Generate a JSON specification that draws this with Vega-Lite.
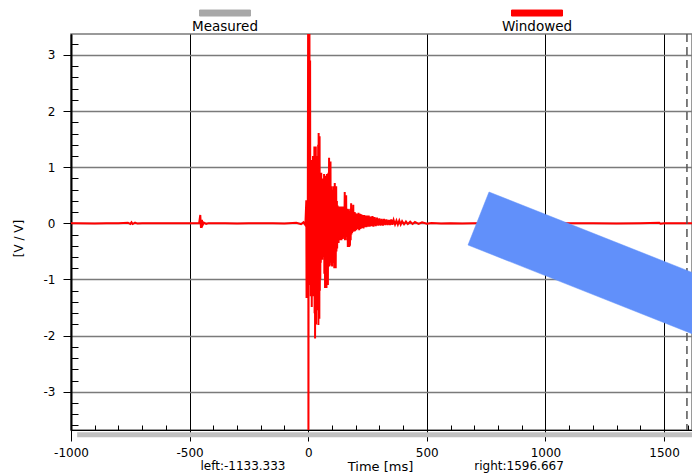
{
  "$schema": "https://vega.github.io/schema/vega-lite/v6.json",
  "width": 621,
  "height": 396,
  "autosize": {"type": "none"},
  "padding": {"left": 71, "top": 34, "right": 0, "bottom": 43},
  "background": "#ffffff",
  "config": {
    "font": "DejaVu Sans",
    "view": {"stroke": "#7a7a7a", "strokeWidth": 1.5},
    "axis": {"labelFont": "DejaVu Sans", "labelFontSize": 12, "labelColor": "#000000", "titleFont": "DejaVu Sans", "titleFontWeight": "normal", "titleColor": "#000000"}
  },
  "datasets": {
    "trace": [
      {"t": -1000, "v": 0}, {"t": -980, "v": 0.004}, {"t": -900, "v": -0.003}, {"t": -850, "v": 0.004}, {"t": -800, "v": 0},
      {"t": -760, "v": 0.012}, {"t": -750, "v": -0.012}, {"t": -745, "v": 0.02}, {"t": -740, "v": -0.012}, {"t": -730, "v": 0.012},
      {"t": -720, "v": -0.004}, {"t": -700, "v": 0.004}, {"t": -650, "v": 0}, {"t": -600, "v": 0.003}, {"t": -500, "v": 0},
      {"t": -460, "v": 0}, {"t": -455, "v": 0.15}, {"t": -452, "v": -0.08}, {"t": -448, "v": 0.06}, {"t": -445, "v": -0.03},
      {"t": -440, "v": 0.015}, {"t": -430, "v": -0.008}, {"t": -420, "v": 0.004}, {"t": -400, "v": 0}, {"t": -350, "v": 0.004},
      {"t": -300, "v": -0.003}, {"t": -250, "v": 0.003}, {"t": -200, "v": 0}, {"t": -150, "v": 0.004}, {"t": -100, "v": -0.004},
      {"t": -50, "v": 0.01}, {"t": -30, "v": -0.015}, {"t": -20, "v": 0.02}, {"t": -12, "v": -0.03},
      {"t": -8, "v": 0.41}, {"t": -7, "v": -1.33}, {"t": -6, "v": 0.2}, {"t": -5, "v": -0.6}, {"t": -3, "v": 0.3}, {"t": -2, "v": -0.4},
      {"t": 0, "v": 4.5}, {"t": 1, "v": -4.5}, {"t": 2, "v": 2.9}, {"t": 3, "v": -1.0}, {"t": 4, "v": 1.1}, {"t": 5, "v": 4.5},
      {"t": 6, "v": 0.8}, {"t": 7, "v": -0.6}, {"t": 8, "v": 2.9}, {"t": 9, "v": -1.1}, {"t": 10, "v": 0.7}, {"t": 11, "v": -1.3},
      {"t": 12, "v": 1.0}, {"t": 13, "v": -0.8}, {"t": 14, "v": 1.13}, {"t": 15, "v": -1.49}, {"t": 16, "v": 0.6}, {"t": 17, "v": -1.2},
      {"t": 18, "v": 0.9}, {"t": 19, "v": -1.0}, {"t": 20, "v": 1.2}, {"t": 21, "v": -0.7}, {"t": 22, "v": 1.0}, {"t": 23, "v": -1.3},
      {"t": 24, "v": 0.8}, {"t": 25, "v": -1.0}, {"t": 26, "v": 1.37}, {"t": 27, "v": -1.6}, {"t": 28, "v": 0.9}, {"t": 29, "v": -2.05},
      {"t": 30, "v": 1.1}, {"t": 31, "v": -1.4}, {"t": 32, "v": 1.37}, {"t": 33, "v": -1.8}, {"t": 34, "v": 1.0}, {"t": 35, "v": -1.2},
      {"t": 36, "v": 1.2}, {"t": 37, "v": -1.55}, {"t": 38, "v": 0.8}, {"t": 39, "v": -1.3}, {"t": 40, "v": 1.2}, {"t": 41, "v": -1.0},
      {"t": 42, "v": 1.4}, {"t": 43, "v": -1.81}, {"t": 44, "v": 1.61}, {"t": 45, "v": -1.5}, {"t": 46, "v": 1.2}, {"t": 47, "v": -1.7},
      {"t": 48, "v": 1.55}, {"t": 49, "v": -1.2}, {"t": 50, "v": 0.9}, {"t": 51, "v": -1.0}, {"t": 52, "v": 0.8}, {"t": 53, "v": -0.7},
      {"t": 55, "v": 0.9}, {"t": 56, "v": -0.6}, {"t": 58, "v": 0.7}, {"t": 59, "v": -0.65}, {"t": 61, "v": 0.8}, {"t": 62, "v": -0.5},
      {"t": 64, "v": 0.6}, {"t": 65, "v": -0.6}, {"t": 67, "v": 0.88}, {"t": 68, "v": -0.9}, {"t": 70, "v": 0.7}, {"t": 71, "v": -1.15},
      {"t": 73, "v": 0.85}, {"t": 74, "v": -0.8}, {"t": 76, "v": 0.6}, {"t": 77, "v": -1.15}, {"t": 79, "v": 0.88}, {"t": 80, "v": -1.0},
      {"t": 82, "v": 0.5}, {"t": 83, "v": -1.1}, {"t": 85, "v": 0.9}, {"t": 86, "v": -0.7}, {"t": 88, "v": 1.17}, {"t": 89, "v": -0.77},
      {"t": 91, "v": 0.8}, {"t": 92, "v": -0.6}, {"t": 94, "v": 1.1}, {"t": 95, "v": -0.7}, {"t": 97, "v": 0.66}, {"t": 98, "v": -0.75},
      {"t": 100, "v": 0.6}, {"t": 101, "v": -0.77}, {"t": 103, "v": 0.5}, {"t": 104, "v": -0.6}, {"t": 106, "v": 0.66}, {"t": 107, "v": -0.7},
      {"t": 109, "v": 0.5}, {"t": 110, "v": -0.8}, {"t": 112, "v": 0.72}, {"t": 113, "v": -0.55}, {"t": 115, "v": 0.5}, {"t": 116, "v": -0.8},
      {"t": 118, "v": 0.66}, {"t": 119, "v": -0.5}, {"t": 121, "v": 0.4}, {"t": 122, "v": -0.45}, {"t": 124, "v": 0.32}, {"t": 125, "v": -0.3},
      {"t": 127, "v": 0.3}, {"t": 128, "v": -0.35}, {"t": 130, "v": 0.28}, {"t": 131, "v": -0.25}, {"t": 133, "v": 0.3}, {"t": 134, "v": -0.3},
      {"t": 136, "v": 0.25}, {"t": 137, "v": -0.22}, {"t": 139, "v": 0.3}, {"t": 140, "v": -0.3}, {"t": 142, "v": 0.25}, {"t": 143, "v": -0.2},
      {"t": 145, "v": 0.3}, {"t": 146, "v": -0.28}, {"t": 148, "v": 0.26}, {"t": 149, "v": -0.2}, {"t": 151, "v": 0.3}, {"t": 152, "v": -0.25},
      {"t": 154, "v": 0.56}, {"t": 155, "v": -0.3}, {"t": 157, "v": 0.3}, {"t": 158, "v": -0.24}, {"t": 160, "v": 0.5}, {"t": 161, "v": -0.22},
      {"t": 163, "v": 0.26}, {"t": 164, "v": -0.3}, {"t": 166, "v": 0.26}, {"t": 167, "v": -0.42}, {"t": 169, "v": 0.25}, {"t": 170, "v": -0.3},
      {"t": 172, "v": 0.22}, {"t": 173, "v": -0.42}, {"t": 175, "v": 0.2}, {"t": 176, "v": -0.4}, {"t": 178, "v": 0.26}, {"t": 179, "v": -0.3},
      {"t": 181, "v": 0.36}, {"t": 182, "v": -0.2}, {"t": 184, "v": 0.2}, {"t": 185, "v": -0.17}, {"t": 187, "v": 0.2}, {"t": 188, "v": -0.15},
      {"t": 190, "v": 0.33}, {"t": 191, "v": -0.15}, {"t": 193, "v": 0.19}, {"t": 194, "v": -0.12}, {"t": 196, "v": 0.2}, {"t": 197, "v": -0.14},
      {"t": 200, "v": 0.18}, {"t": 203, "v": -0.12}, {"t": 206, "v": 0.17}, {"t": 209, "v": -0.1}, {"t": 212, "v": 0.19}, {"t": 215, "v": -0.12},
      {"t": 218, "v": 0.17}, {"t": 221, "v": -0.1}, {"t": 224, "v": 0.16}, {"t": 227, "v": -0.08}, {"t": 230, "v": 0.15}, {"t": 233, "v": -0.09},
      {"t": 236, "v": 0.15}, {"t": 239, "v": -0.07}, {"t": 242, "v": 0.14}, {"t": 245, "v": -0.07}, {"t": 248, "v": 0.14}, {"t": 251, "v": -0.06},
      {"t": 255, "v": 0.14}, {"t": 259, "v": -0.06}, {"t": 263, "v": 0.12}, {"t": 267, "v": -0.05}, {"t": 271, "v": 0.13}, {"t": 275, "v": -0.06},
      {"t": 280, "v": 0.11}, {"t": 285, "v": -0.05}, {"t": 290, "v": 0.1}, {"t": 295, "v": -0.04}, {"t": 300, "v": 0.09}, {"t": 305, "v": -0.04},
      {"t": 310, "v": 0.08}, {"t": 315, "v": -0.04}, {"t": 320, "v": 0.08}, {"t": 325, "v": -0.03}, {"t": 330, "v": 0.07}, {"t": 335, "v": -0.03},
      {"t": 340, "v": 0.06}, {"t": 345, "v": -0.03}, {"t": 350, "v": 0.07}, {"t": 355, "v": -0.025}, {"t": 360, "v": 0.06}, {"t": 366, "v": -0.02},
      {"t": 372, "v": 0.05}, {"t": 378, "v": -0.02}, {"t": 384, "v": 0.05}, {"t": 390, "v": -0.02}, {"t": 396, "v": 0.04}, {"t": 404, "v": -0.015},
      {"t": 412, "v": 0.035}, {"t": 420, "v": -0.012}, {"t": 430, "v": 0.03}, {"t": 440, "v": -0.01}, {"t": 450, "v": 0.025}, {"t": 465, "v": -0.008},
      {"t": 480, "v": 0.02}, {"t": 500, "v": -0.006}, {"t": 520, "v": 0.006}, {"t": 560, "v": -0.003}, {"t": 600, "v": 0.003}, {"t": 650, "v": -0.003},
      {"t": 700, "v": 0.002}, {"t": 750, "v": 0}, {"t": 800, "v": 0.003}, {"t": 900, "v": -0.002}, {"t": 1000, "v": 0.002}, {"t": 1100, "v": 0},
      {"t": 1200, "v": 0.002}, {"t": 1300, "v": -0.002}, {"t": 1400, "v": 0.002}, {"t": 1480, "v": 0.01}, {"t": 1485, "v": -0.006}, {"t": 1500, "v": 0},
      {"t": 1618, "v": 0}
    ],
    "measured": [{"from": -974, "to": 1618}],
    "bounds": [
      {"side": "left", "value": -1133.333, "label": "left:-1133.333"},
      {"side": "right", "value": 1596.667, "label": "right:1596.667"}
    ],
    "band": [
      {"i": 0, "x": 762.2, "y": 0.559},
      {"i": 1, "x": 1938, "y": -1.41},
      {"i": 2, "x": 1849.5, "y": -2.355},
      {"i": 3, "x": 673.7, "y": -0.386},
      {"i": 4, "x": 762.2, "y": 0.559}
    ]
  },
  "layer": [
    {
      "data": {"name": "trace"},
      "mark": {"type": "line", "strokeWidth": 2, "clip": true},
      "encoding": {
        "x": {
          "field": "t", "type": "quantitative",
          "scale": {"domain": [-1000, 1618], "nice": false, "zero": false},
          "axis": {
            "values": [-1000, -900, -800, -700, -600, -500, -400, -300, -200, -100, 0, 100, 200, 300, 400, 500, 600, 700, 800, 900, 1000, 1100, 1200, 1300, 1400, 1500, 1600],
            "labelExpr": "datum.value % 500 === 0 ? '' + datum.value : ''",
            "labelFlush": false, "labelOverlap": false, "labelPadding": 6,
            "grid": true, "gridColor": "#000000", "gridWidth": 1,
            "gridOpacity": {"condition": {"test": "datum.value % 500 === 0", "value": 1}, "value": 0},
            "tickSize": {"condition": {"test": "datum.value % 500 === 0", "value": 11}, "value": -5},
            "tickColor": "#000000", "tickWidth": 1,
            "domainColor": "#000000", "domainWidth": 1,
            "title": "Time [ms]", "titleFontSize": 13, "titleX": 309, "titleY": 40,
            "titleAlign": "center", "titleBaseline": "alphabetic"
          }
        },
        "y": {
          "field": "v", "type": "quantitative",
          "scale": {"domain": [-3.682, 3.374], "nice": false, "zero": false},
          "axis": {
            "values": [-3.6, -3.4, -3.2, -3, -2.8, -2.6, -2.4, -2.2, -2, -1.8, -1.6, -1.4, -1.2, -1, -0.8, -0.6, -0.4, -0.2, 0, 0.2, 0.4, 0.6, 0.8, 1, 1.2, 1.4, 1.6, 1.8, 2, 2.2, 2.4, 2.6, 2.8, 3, 3.2],
            "labelExpr": "abs(datum.value - round(datum.value)) < 0.001 ? '' + round(datum.value) : ''",
            "labelFlush": false, "labelOverlap": false, "labelPadding": 8,
            "grid": true, "gridColor": "#7a7a7a", "gridWidth": 1.5,
            "gridOpacity": {"condition": {"test": "abs(datum.value - round(datum.value)) < 0.001", "value": 1}, "value": 0},
            "tickSize": {"condition": {"test": "abs(datum.value - round(datum.value)) < 0.001", "value": 8}, "value": -7},
            "tickColor": "#000000", "tickWidth": 1,
            "domainColor": "#000000", "domainWidth": 2,
            "title": "[V / V]", "titleFontSize": 12, "titleX": -53, "titleY": 204,
            "titleAlign": "center", "titleBaseline": "middle"
          }
        },
        "color": {
          "datum": "Windowed", "type": "nominal",
          "scale": {"domain": ["Measured", "Windowed"], "range": ["#a8a8a8", "#ff0000"]},
          "legend": {
            "orient": "none", "legendX": 128, "legendY": -33, "direction": "horizontal", "title": null,
            "symbolType": "M-1,-0.675H1V-0.44H-1Z", "symbolSize": 2601, "symbolStrokeWidth": 1,
            "labelFont": "DejaVu Sans", "labelFontSize": 13.5, "labelColor": "#000000",
            "labelAlign": "center", "labelBaseline": "middle", "labelOffset": -26,
            "columnPadding": 243, "padding": 0,
            "encode": {"symbols": {"update": {"fill": {"scale": "color", "field": "value"}, "fillOpacity": {"value": 1}, "stroke": {"value": "#000000"}, "opacity": {"value": 1}}}}
          }
        }
      }
    },
    {
      "data": {"name": "measured"},
      "mark": {"type": "rect", "color": "#c0c0c0", "clip": false},
      "encoding": {
        "x": {
          "field": "from", "type": "quantitative",
          "axis": {
            "values": [-1000, -900, -800, -700, -600, -500, -400, -300, -200, -100, 0, 100, 200, 300, 400, 500, 600, 700, 800, 900, 1000, 1100, 1200, 1300, 1400, 1500, 1600],
            "labelExpr": "datum.value % 500 === 0 ? '' + datum.value : ''",
            "labelFlush": false, "labelOverlap": false, "labelPadding": 6,
            "grid": true, "gridColor": "#000000", "gridWidth": 1,
            "gridOpacity": {"condition": {"test": "datum.value % 500 === 0", "value": 1}, "value": 0},
            "tickSize": {"condition": {"test": "datum.value % 500 === 0", "value": 11}, "value": -5},
            "tickColor": "#000000", "tickWidth": 1,
            "domainColor": "#000000", "domainWidth": 1,
            "title": "Time [ms]", "titleFontSize": 13, "titleX": 309, "titleY": 40,
            "titleAlign": "center", "titleBaseline": "alphabetic"
          }
        },
        "x2": {"field": "to"},
        "y": {
          "datum": -3.72, "type": "quantitative",
          "axis": {
            "values": [-3.6, -3.4, -3.2, -3, -2.8, -2.6, -2.4, -2.2, -2, -1.8, -1.6, -1.4, -1.2, -1, -0.8, -0.6, -0.4, -0.2, 0, 0.2, 0.4, 0.6, 0.8, 1, 1.2, 1.4, 1.6, 1.8, 2, 2.2, 2.4, 2.6, 2.8, 3, 3.2],
            "labelExpr": "abs(datum.value - round(datum.value)) < 0.001 ? '' + round(datum.value) : ''",
            "labelFlush": false, "labelOverlap": false, "labelPadding": 8,
            "grid": true, "gridColor": "#7a7a7a", "gridWidth": 1.5,
            "gridOpacity": {"condition": {"test": "abs(datum.value - round(datum.value)) < 0.001", "value": 1}, "value": 0},
            "tickSize": {"condition": {"test": "abs(datum.value - round(datum.value)) < 0.001", "value": 8}, "value": -7},
            "tickColor": "#000000", "tickWidth": 1,
            "domainColor": "#000000", "domainWidth": 2,
            "title": "[V / V]", "titleFontSize": 12, "titleX": -53, "titleY": 204,
            "titleAlign": "center", "titleBaseline": "middle"
          }
        },
        "y2": {"datum": -3.81}
      }
    },
    {
      "data": {"name": "bounds"},
      "mark": {"type": "rule", "color": "#555555", "strokeWidth": 1.5, "strokeDash": [8, 5], "clip": true},
      "encoding": {
        "x": {
          "field": "value", "type": "quantitative",
          "axis": {
            "values": [-1000, -900, -800, -700, -600, -500, -400, -300, -200, -100, 0, 100, 200, 300, 400, 500, 600, 700, 800, 900, 1000, 1100, 1200, 1300, 1400, 1500, 1600],
            "labelExpr": "datum.value % 500 === 0 ? '' + datum.value : ''",
            "labelFlush": false, "labelOverlap": false, "labelPadding": 6,
            "grid": true, "gridColor": "#000000", "gridWidth": 1,
            "gridOpacity": {"condition": {"test": "datum.value % 500 === 0", "value": 1}, "value": 0},
            "tickSize": {"condition": {"test": "datum.value % 500 === 0", "value": 11}, "value": -5},
            "tickColor": "#000000", "tickWidth": 1,
            "domainColor": "#000000", "domainWidth": 1,
            "title": "Time [ms]", "titleFontSize": 13, "titleX": 309, "titleY": 40,
            "titleAlign": "center", "titleBaseline": "alphabetic"
          }
        }
      }
    },
    {
      "data": {"name": "bounds"},
      "transform": [{"filter": "datum.side === 'left'"}],
      "mark": {"type": "text", "fontSize": 12, "font": "DejaVu Sans", "color": "#000000", "align": "center", "baseline": "alphabetic", "clip": false},
      "encoding": {
        "x": {
          "datum": -275, "type": "quantitative",
          "axis": {
            "values": [-1000, -900, -800, -700, -600, -500, -400, -300, -200, -100, 0, 100, 200, 300, 400, 500, 600, 700, 800, 900, 1000, 1100, 1200, 1300, 1400, 1500, 1600],
            "labelExpr": "datum.value % 500 === 0 ? '' + datum.value : ''",
            "labelFlush": false, "labelOverlap": false, "labelPadding": 6,
            "grid": true, "gridColor": "#000000", "gridWidth": 1,
            "gridOpacity": {"condition": {"test": "datum.value % 500 === 0", "value": 1}, "value": 0},
            "tickSize": {"condition": {"test": "datum.value % 500 === 0", "value": 11}, "value": -5},
            "tickColor": "#000000", "tickWidth": 1,
            "domainColor": "#000000", "domainWidth": 1,
            "title": "Time [ms]", "titleFontSize": 13, "titleX": 309, "titleY": 40,
            "titleAlign": "center", "titleBaseline": "alphabetic"
          }
        },
        "y": {
          "datum": -4.395, "type": "quantitative",
          "axis": {
            "values": [-3.6, -3.4, -3.2, -3, -2.8, -2.6, -2.4, -2.2, -2, -1.8, -1.6, -1.4, -1.2, -1, -0.8, -0.6, -0.4, -0.2, 0, 0.2, 0.4, 0.6, 0.8, 1, 1.2, 1.4, 1.6, 1.8, 2, 2.2, 2.4, 2.6, 2.8, 3, 3.2],
            "labelExpr": "abs(datum.value - round(datum.value)) < 0.001 ? '' + round(datum.value) : ''",
            "labelFlush": false, "labelOverlap": false, "labelPadding": 8,
            "grid": true, "gridColor": "#7a7a7a", "gridWidth": 1.5,
            "gridOpacity": {"condition": {"test": "abs(datum.value - round(datum.value)) < 0.001", "value": 1}, "value": 0},
            "tickSize": {"condition": {"test": "abs(datum.value - round(datum.value)) < 0.001", "value": 8}, "value": -7},
            "tickColor": "#000000", "tickWidth": 1,
            "domainColor": "#000000", "domainWidth": 2,
            "title": "[V / V]", "titleFontSize": 12, "titleX": -53, "titleY": 204,
            "titleAlign": "center", "titleBaseline": "middle"
          }
        },
        "text": {"field": "label"}
      }
    },
    {
      "data": {"name": "bounds"},
      "transform": [{"filter": "datum.side === 'right'"}],
      "mark": {"type": "text", "fontSize": 12, "font": "DejaVu Sans", "color": "#000000", "align": "center", "baseline": "alphabetic", "clip": false},
      "encoding": {
        "x": {
          "datum": 889, "type": "quantitative",
          "axis": {
            "values": [-1000, -900, -800, -700, -600, -500, -400, -300, -200, -100, 0, 100, 200, 300, 400, 500, 600, 700, 800, 900, 1000, 1100, 1200, 1300, 1400, 1500, 1600],
            "labelExpr": "datum.value % 500 === 0 ? '' + datum.value : ''",
            "labelFlush": false, "labelOverlap": false, "labelPadding": 6,
            "grid": true, "gridColor": "#000000", "gridWidth": 1,
            "gridOpacity": {"condition": {"test": "datum.value % 500 === 0", "value": 1}, "value": 0},
            "tickSize": {"condition": {"test": "datum.value % 500 === 0", "value": 11}, "value": -5},
            "tickColor": "#000000", "tickWidth": 1,
            "domainColor": "#000000", "domainWidth": 1,
            "title": "Time [ms]", "titleFontSize": 13, "titleX": 309, "titleY": 40,
            "titleAlign": "center", "titleBaseline": "alphabetic"
          }
        },
        "y": {
          "datum": -4.395, "type": "quantitative",
          "axis": {
            "values": [-3.6, -3.4, -3.2, -3, -2.8, -2.6, -2.4, -2.2, -2, -1.8, -1.6, -1.4, -1.2, -1, -0.8, -0.6, -0.4, -0.2, 0, 0.2, 0.4, 0.6, 0.8, 1, 1.2, 1.4, 1.6, 1.8, 2, 2.2, 2.4, 2.6, 2.8, 3, 3.2],
            "labelExpr": "abs(datum.value - round(datum.value)) < 0.001 ? '' + round(datum.value) : ''",
            "labelFlush": false, "labelOverlap": false, "labelPadding": 8,
            "grid": true, "gridColor": "#7a7a7a", "gridWidth": 1.5,
            "gridOpacity": {"condition": {"test": "abs(datum.value - round(datum.value)) < 0.001", "value": 1}, "value": 0},
            "tickSize": {"condition": {"test": "abs(datum.value - round(datum.value)) < 0.001", "value": 8}, "value": -7},
            "tickColor": "#000000", "tickWidth": 1,
            "domainColor": "#000000", "domainWidth": 2,
            "title": "[V / V]", "titleFontSize": 12, "titleX": -53, "titleY": 204,
            "titleAlign": "center", "titleBaseline": "middle"
          }
        },
        "text": {"field": "label"}
      }
    },
    {
      "data": {"name": "band"},
      "mark": {"type": "line", "fill": "#6190fa", "stroke": "#6190fa", "strokeWidth": 0.5, "fillOpacity": 1, "clip": true},
      "encoding": {
        "x": {
          "field": "x", "type": "quantitative",
          "axis": {
            "values": [-1000, -900, -800, -700, -600, -500, -400, -300, -200, -100, 0, 100, 200, 300, 400, 500, 600, 700, 800, 900, 1000, 1100, 1200, 1300, 1400, 1500, 1600],
            "labelExpr": "datum.value % 500 === 0 ? '' + datum.value : ''",
            "labelFlush": false, "labelOverlap": false, "labelPadding": 6,
            "grid": true, "gridColor": "#000000", "gridWidth": 1,
            "gridOpacity": {"condition": {"test": "datum.value % 500 === 0", "value": 1}, "value": 0},
            "tickSize": {"condition": {"test": "datum.value % 500 === 0", "value": 11}, "value": -5},
            "tickColor": "#000000", "tickWidth": 1,
            "domainColor": "#000000", "domainWidth": 1,
            "title": "Time [ms]", "titleFontSize": 13, "titleX": 309, "titleY": 40,
            "titleAlign": "center", "titleBaseline": "alphabetic"
          }
        },
        "y": {
          "field": "y", "type": "quantitative",
          "axis": {
            "values": [-3.6, -3.4, -3.2, -3, -2.8, -2.6, -2.4, -2.2, -2, -1.8, -1.6, -1.4, -1.2, -1, -0.8, -0.6, -0.4, -0.2, 0, 0.2, 0.4, 0.6, 0.8, 1, 1.2, 1.4, 1.6, 1.8, 2, 2.2, 2.4, 2.6, 2.8, 3, 3.2],
            "labelExpr": "abs(datum.value - round(datum.value)) < 0.001 ? '' + round(datum.value) : ''",
            "labelFlush": false, "labelOverlap": false, "labelPadding": 8,
            "grid": true, "gridColor": "#7a7a7a", "gridWidth": 1.5,
            "gridOpacity": {"condition": {"test": "abs(datum.value - round(datum.value)) < 0.001", "value": 1}, "value": 0},
            "tickSize": {"condition": {"test": "abs(datum.value - round(datum.value)) < 0.001", "value": 8}, "value": -7},
            "tickColor": "#000000", "tickWidth": 1,
            "domainColor": "#000000", "domainWidth": 2,
            "title": "[V / V]", "titleFontSize": 12, "titleX": -53, "titleY": 204,
            "titleAlign": "center", "titleBaseline": "middle"
          }
        },
        "order": {"field": "i"}
      }
    }
  ]
}
